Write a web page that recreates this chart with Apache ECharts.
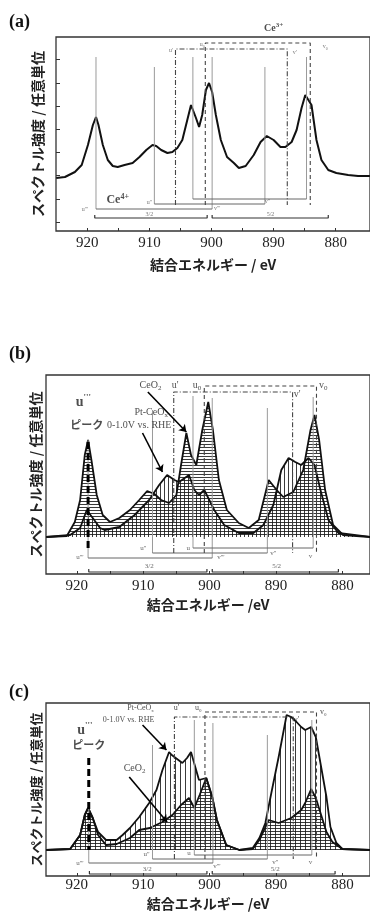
<!DOCTYPE html>
<html><head><meta charset="utf-8">
<script src="https://cdn.jsdelivr.net/npm/echarts@6/dist/echarts.min.js"></script>
<style>html,body{margin:0;padding:0;background:#fff}#c{width:370px;height:917px}</style>
</head><body><div id="c"></div>
<script>
// ---------- data (binding energy eV / intensity a.u.) ----------
const energyA = [925.0,923.6,922.0,920.9,919.9,919.1,918.6,918.2,917.5,916.7,915.9,915.1,914.0,912.7,911.6,910.5,909.5,908.9,908.1,907.1,906.3,905.5,904.7,903.9,903.3,902.5,902.0,901.5,900.9,900.4,899.9,899.3,898.5,897.5,896.4,895.6,894.5,893.2,892.1,891.1,890.0,888.9,888.1,887.1,886.3,885.5,884.9,884.6,883.9,883.1,882.3,881.2,879.9,878.0,876.4,874.5];
const intensityA = [53,54,59,66,86,106,114,106,86,71,65,64,66,68,74,81,86,85,81,78,79,83,91,111,126,113,104,116,141,148,139,116,91,74,68,63,65,76,89,95,91,84,84,89,101,123,136,138,126,91,71,61,58,56,55,55];

const energyB_CeO2 = [924.6,921.5,920.3,919.5,918.8,918.3,917.8,917.0,916.1,915.0,913.6,912.0,910.6,909.4,908.3,907.3,906.1,905.0,904.3,903.5,902.8,902.0,901.1,900.2,899.5,898.6,897.4,895.6,894.1,892.6,891.1,889.9,888.9,887.4,885.9,884.8,884.2,883.5,882.6,881.4,879.9,875.8];
const intensityB_CeO2 = [37,38,52,74,119,134,114,79,59,52,56,64,74,83,80,74,71,79,109,141,119,109,144,172,144,94,64,51,46,54,94,84,77,82,104,144,159,134,84,49,39,37];
const energyB_Pt = [924.6,921.0,919.5,918.5,917.6,916.5,915.8,913.6,911.3,909.1,907.6,906.4,905.3,904.6,903.1,902.3,901.6,900.8,899.3,897.8,895.6,893.4,891.9,890.4,889.2,888.1,887.1,886.2,885.1,884.2,883.3,882.1,880.6,875.8];
const intensityB_Pt = [37,39,46,64,56,46,44,47,59,74,89,99,94,92,99,84,79,84,64,49,41,41,49,69,104,116,112,109,116,109,84,54,41,37];

const energyC_Pt = [924.6,921.0,919.5,918.8,918.3,917.6,916.8,915.6,914.0,913.1,912.0,910.6,909.1,908.0,907.1,906.1,905.7,904.1,903.4,902.8,901.6,900.5,899.6,898.9,897.5,895.5,893.5,892.5,891.6,890.7,889.6,888.4,887.7,886.9,886.2,885.6,884.7,884.0,883.2,882.4,881.8,880.9,880.0,875.8];
const intensityC_Pt = [26,27,41,61,68,58,44,36,36,41,48,59,73,86,106,124,121,113,118,124,96,98,79,56,31,26,28,38,53,83,119,161,159,154,149,146,149,139,109,79,49,33,27,26];
const energyC_CeO2 = [924.6,921.0,919.5,918.8,918.3,917.6,916.8,915.6,914.0,912.0,910.6,909.0,907.1,905.6,904.3,903.1,902.3,901.5,900.5,899.6,898.9,897.5,895.5,893.5,892.5,891.1,889.6,887.7,886.2,885.6,884.7,884.0,883.2,882.4,881.5,880.0,875.8];
const intensityC_CeO2 = [26,27,41,61,68,58,41,31,32,38,46,48,54,61,71,78,68,81,98,79,56,31,26,27,36,56,53,58,66,73,87,78,61,44,34,27,26];

const xTickLabels = [920,910,900,890,880];
const xTicks = [920,915,910,905,900,895,890,885,880];
const yTicksA = [9,32.2,55.4,78.6,101.8,125,148.2,171.4];

// Ce4+ pairs: [u energy, v energy, u top, v top, bracket level]
const ce4A = [[918.6,899.9,174,174,22],[909.2,891.4,164,164,27],[903.0,884.7,174,174,32]];
const ce4B = [[918.3,899.6,134,176,16],[908.6,891.3,164,166,21],[902.5,884.4,178,177,26]];
const ce4C = [[918.2,899.5,68,153,13],[908.6,891.3,131,141,17],[902.3,884.6,156,156,21]];
// Ce3+ pairs: [u energy, v energy, top, bottom]
const ce3A = [[905.8,887.8,182,26],[901.0,884.1,188,26]];
const ce3B = [[905.4,887.5,182,21],[900.8,883.9,188,21]];
const ce3C = [[905.3,887.4,159,17],[900.7,883.9,164,17]];
// 3d3/2 and 3d5/2 ranges: [from, to, level]
const splitA = [[918.8,900.7,13],[899.9,881.2,13]];
const splitB = [[918.2,900.4,2],[899.6,880.6,2]];
const splitC = [[918.1,900.4,2],[899.6,881.1,2]];
// u''' peak markers: [energy, top, bottom]
const markerB = [918.3,132,24];
const markerC = [918.2,118,26];

const labelsA = [
 ["Ce{sup|3+}",890.0,203,'ce'],["Ce{sup|4+}",915.1,31,'ce4'],
 ["u'''",920.4,22,'tinyA'],["u''",910.0,29,'tinyA'],["v'''",899.1,23,'tinyA'],["v''",891.0,30,'tinyA'],
 ["u'",906.5,181,'tinyA'],["u{sb|0}",901.5,187,'tinyA'],["v'",886.6,179,'tinyA'],["v{sb|0}",881.7,185,'tinyA'],
 ["3/2",910.0,17,'tinyA'],["5/2",890.5,17,'tinyA']];
const labelsB = [
 ["u{sup|'''}",919.0,172,'bigu'],["ピーク",918.5,149,'jp'],["0-1.0V vs. RHE",910.6,149,'smallB'],
 ["Pt-CeO{sub|x}",908.8,162,'smallB'],["CeO{sub|2}",908.9,189,'smallB'],
 ["u'",905.2,189,'smallB'],["u{sub|0}",901.9,189,'smallB'],["v{sub|0}",882.9,189,'smallB'],["v'",886.8,180,'smallB'],
 ["u'''",919.55,17,'tiny'],["v'''",898.3,17,'tiny'],["u''",910.0,26,'tiny'],["v''",890.4,21,'tiny'],
 ["u",903.2,26,'tiny'],["v",884.8,18,'tiny'],["3/2",909.1,8,'tiny'],["5/2",889.9,8,'tiny']];
const labelsC = [
 ["Pt-CeO{sub|x}",910.4,168,'smallC'],["0-1.0V vs. RHE",912.2,156,'smallC'],
 ["u'",905.0,168,'smallC'],["u{sub|0}",901.7,168,'smallC'],["v{sub|0}",882.9,164,'smallC'],["v'",886.9,156,'smallC'],
 ["u{sup|'''}",918.8,146,'bigu'],["ピーク",918.2,131,'jp'],["CeO{sub|2}",911.3,108,'smallB'],
 ["u'''",919.55,13,'tiny'],["v'''",898.9,10,'tiny'],["u''",909.5,22,'tiny'],["v''",890.1,14,'tiny'],
 ["u",903.1,23,'tiny'],["v",884.8,14,'tiny'],["3/2",909.4,7,'tiny'],["5/2",890.1,7,'tiny']];
const arrowsB = [[[909.3,182],[903.5,142]],[[910.1,141],[907.1,102]]];
const arrowsC = [[[910.1,151],[906.5,126]],[[912.1,99],[906.4,54]]];

// ---------- rendering ----------
const SERIF = 'Liberation Serif', JP = 'Noto Sans CJK JP';
function hatch(dir, gap){
  const c = document.createElement('canvas'); c.width = gap; c.height = gap;
  const g = c.getContext('2d'); g.fillStyle = 'rgba(25,25,25,0.85)';
  if (dir === 'h') g.fillRect(0,0,gap,1); else g.fillRect(0,0,1,gap);
  return {image:c, repeat:'repeat'};
}
function sty(size, color, weight, lh){
  return {fontFamily:SERIF, fontSize:size, color:color, fontWeight:weight||'normal', lineHeight:lh||size+3,
    rich:{
      sup:{fontFamily:SERIF, fontSize:Math.round(size*0.65), fontWeight:weight||'normal', color:color, verticalAlign:'top', lineHeight:Math.round(size*0.65)},
      sub:{fontFamily:SERIF, fontSize:Math.round(size*0.65), fontWeight:weight||'normal', color:color, verticalAlign:'bottom', lineHeight:Math.round(size*0.65)},
      sb:{fontFamily:SERIF, fontSize:Math.max(4,Math.round(size*0.7)), color:color, verticalAlign:'bottom', lineHeight:Math.round(size*0.7)}
    }};
}
const styles = {
  ce: sty(10,'#222','bold'), ce4: sty(12,'#222','bold'),
  tinyA: sty(6,'#555'), tiny: sty(7,'#444'),
  smallB: sty(10,'#222','normal',14), smallC: sty(8,'#222','normal',11),
  bigu: sty(14,'#222','bold'),
  jp: {fontFamily:JP, fontSize:11, fontWeight:'bold', color:'#222'}
};

const series = [];
function poly(i, pts, color, width, type, z){
  series.push({type:'line', xAxisIndex:i, yAxisIndex:i, data:pts, symbol:'none', silent:true, animation:false, clip:false,
    lineStyle:{color:color, width:width, type:type||'solid'}, z:z||3});
}
function curve(i, es, vs, fill, base, w){
  const s = {type:'line', xAxisIndex:i, yAxisIndex:i, data:es.map((e,k)=>[e,vs[k]]), symbol:'none', silent:true,
    animation:false, lineStyle:{color:'#111', width:w||1.8}, z:2};
  if (fill) s.areaStyle = {color:fill, opacity:1, origin:base};
  series.push(s);
}
function annotate(i, ce4, ce3, split, marker, labels, arrows){
  ce4.forEach(([u,v,ut,vt,lv])=>{
    poly(i, [[u,ut],[u,lv]], '#9a9a9a', 1);
    poly(i, [[v,vt],[v,lv]], '#9a9a9a', 1);
    poly(i, [[u,lv],[v,lv]], '#666', 1);
  });
  ce3.forEach(([u,v,top,bot],k)=>{
    poly(i, [[u,bot],[u,top],[v,top],[v,bot]], '#444', 1.1, k===0 ? [5,2,1,2] : [4,3]);
  });
  split.forEach(([a,b,lv])=>{
    poly(i, [[a,lv+3],[a,lv],[b,lv],[b,lv+3]], '#333', 1.2);
  });
  if (marker) poly(i, [[marker[0],marker[1]],[marker[0],marker[2]]], '#000', 3, [7,4], 4);
  series.push({type:'scatter', xAxisIndex:i, yAxisIndex:i, symbolSize:1, itemStyle:{color:'rgba(0,0,0,0)'},
    clip:false, silent:true, animation:false, z:6,
    data: labels.map(([t,e,y,s])=>({value:[e,y], label:Object.assign({show:true, position:'inside', formatter:t}, styles[s])})),
    markLine: arrows ? {symbol:['none','arrow'], symbolSize:7, silent:true, animation:false, label:{show:false},
      lineStyle:{color:'#000', width:1.6, type:'solid'},
      data: arrows.map(([p,q])=>[{coord:p},{coord:q}])} : undefined
  });
}

// panel (a)
curve(0, energyA, intensityA, null, 0, 2);
annotate(0, ce4A, ce3A, splitA, null, labelsA, null);
// panel (b)
curve(1, energyB_CeO2, intensityB_CeO2, hatch('h',3), 37);
curve(1, energyB_Pt, intensityB_Pt, hatch('v',4), 37);
annotate(1, ce4B, ce3B, splitB, markerB, labelsB, arrowsB);
// panel (c)
curve(2, energyC_Pt, intensityC_Pt, hatch('v',5), 26);
curve(2, energyC_CeO2, intensityC_CeO2, hatch('h',3), 26);
annotate(2, ce4C, ce3C, splitC, markerC, labelsC, arrowsC);

const grids = [
  {left:56, top:37, width:316, height:194},
  {left:46, top:375, width:326, height:199},
  {left:46, top:703, width:326, height:173}
].map(g=>Object.assign(g,{show:true, borderColor:'#333', borderWidth:1.3, backgroundColor:'transparent'}));

const xr = [[874.48,925.04,5,27,'結合エネルギー / eV'],[875.84,924.64,5,24,'結合エネルギー /eV'],[875.84,924.64,2,21,'結合エネルギー /eV']];
const xAxis = xr.map(([mn,mx,mg,ng,nm],i)=>({gridIndex:i, type:'value', inverse:true, min:mn, max:mx,
  axisLine:{show:false}, splitLine:{show:false},
  axisTick:{show:true, inside:true, length:3, customValues:xTicks, lineStyle:{color:'#333', width:1}},
  axisLabel:{customValues:xTickLabels, margin:mg, fontFamily:SERIF, fontSize:15, color:'#222'},
  name:nm, nameLocation:'middle', nameGap:ng,
  nameTextStyle:{fontFamily:JP, fontSize:14, fontWeight:'bold', color:'#222'}}));
const yr = [[194,11,14],[199,3,14],[173,3,13]];
const yAxis = yr.map(([mx,ng,fs],i)=>({gridIndex:i, type:'value', min:0, max:mx,
  axisLine:{show:false}, splitLine:{show:false}, axisLabel:{show:false},
  axisTick: i===0 ? {show:true, inside:true, length:4, customValues:yTicksA, lineStyle:{color:'#333'}} : {show:false},
  name:'スペクトル強度 / 任意単位', nameLocation:'middle', nameRotate:90, nameGap:ng,
  nameTextStyle:{fontFamily:JP, fontSize:fs, fontWeight:'bold', color:'#222'}}));

const chart = echarts.init(document.getElementById('c'), null, {renderer:'canvas'});
chart.setOption({
  animation:false, backgroundColor:'#fff',
  title:[['(a)',8],['(b)',340],['(c)',678]].map(([t,top])=>({text:t, left:4, top:top,
    textStyle:{fontFamily:SERIF, fontSize:18, fontWeight:'bold', color:'#111'}})),
  grid:grids, xAxis:xAxis, yAxis:yAxis, series:series
});
</script></body></html>
